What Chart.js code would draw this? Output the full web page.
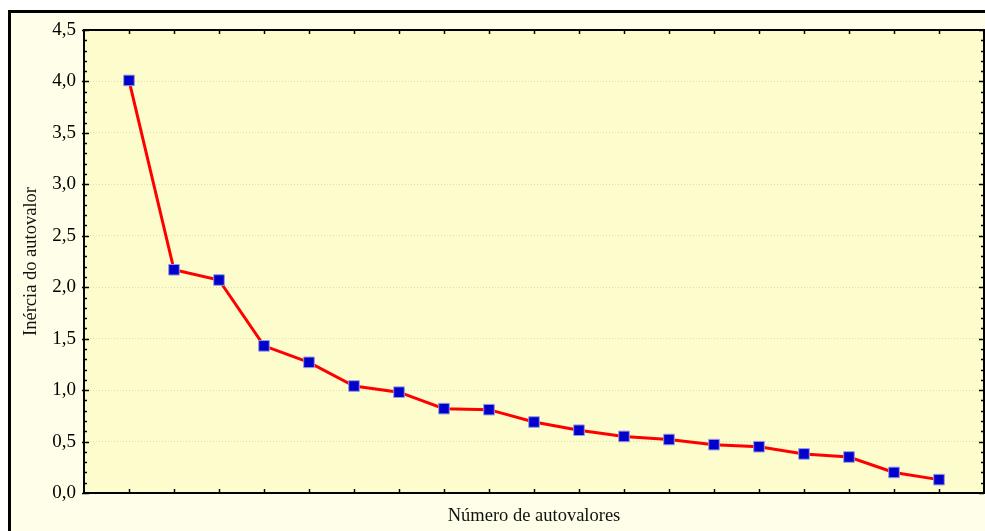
<!DOCTYPE html>
<html>
<head>
<meta charset="utf-8">
<script src="https://cdn.jsdelivr.net/npm/chart.js@4"></script>
<style>
  html, body { margin: 0; padding: 0; background: #fff; }
  #frame {
    position: absolute; left: 8px; top: 10px; width: 1000px; height: 540px;
    border-left: 3px solid #000; border-top: 3px solid #000;
    background: #fffee8;
  }
  #scree { position: absolute; left: 0; top: 0; }
</style>
</head>
<body>
<div id="frame"></div>
<canvas id="scree" width="985" height="531"></canvas>
<script>
  // eigenvalue number vs eigenvalue
  const autovalores = [1, 2, 3, 4, 5, 6, 7, 8, 9, 10, 11, 12, 13, 14, 15, 16, 17, 18, 19];
  const inercia = [4.01, 2.17, 2.07, 1.43, 1.27, 1.04, 0.98, 0.82, 0.81, 0.69,
                   0.61, 0.55, 0.52, 0.47, 0.45, 0.38, 0.35, 0.20, 0.13];
  const yTickLabels = ['0,0', '0,5', '1,0', '1,5', '2,0', '2,5', '3,0', '3,5', '4,0', '4,5'];

  const serif = '"Liberation Serif", "Times New Roman", serif';

  // plot background, frame and inward tick marks like the original software
  const plotFrame = {
    id: 'plotFrame',
    beforeDraw(chart) {
      const { ctx, chartArea: a } = chart;
      ctx.save();
      ctx.fillStyle = '#fdfccd';
      ctx.fillRect(a.left, a.top, a.right - a.left, a.bottom - a.top);
      ctx.restore();
    },
    afterDatasetsDraw(chart) {
      const { ctx, chartArea: a, scales } = chart;
      const x = scales.x, y = scales.y;
      ctx.save();
      ctx.strokeStyle = '#000';
      ctx.lineWidth = 1.5;
      ctx.beginPath();
      for (const v of autovalores) {
        const px = Math.round(x.getPixelForValue(v)) + 0.5;
        ctx.moveTo(px, a.bottom); ctx.lineTo(px, a.bottom - 4);
        ctx.moveTo(px, a.top); ctx.lineTo(px, a.top + 4);
      }
      for (let i = 0; i <= 45; i++) {
        const py = Math.round(y.getPixelForValue(i / 10)) + 0.5;
        const len = i % 5 === 0 ? 5 : 3;
        ctx.moveTo(a.left - (i % 5 === 0 ? 2 : 0), py); ctx.lineTo(a.left + len, py);
        ctx.moveTo(a.right, py); ctx.lineTo(a.right - len, py);
      }
      ctx.stroke();
      ctx.lineWidth = 2;
      ctx.strokeRect(a.left, a.top, a.right - a.left, a.bottom - a.top);
      ctx.restore();
    }
  };

  new Chart(document.getElementById('scree'), {
    type: 'line',
    data: {
      datasets: [{
        data: autovalores.map((v, i) => ({ x: v, y: inercia[i] })),
        borderColor: '#ff0000',
        borderWidth: 3,
        tension: 0,
        pointStyle: 'rect',
        pointRadius: 7.5,
        pointHoverRadius: 7.5,
        pointBackgroundColor: '#0000cc',
        pointBorderColor: '#9a9ae0',
        pointBorderWidth: 1
      }]
    },
    options: {
      responsive: false,
      animation: false,
      devicePixelRatio: 1,
      layout: { autoPadding: false, padding: { left: 20, right: 1, top: 30, bottom: 0 } },
      plugins: { legend: { display: false }, tooltip: { enabled: false } },
      scales: {
        x: {
          type: 'linear', min: 0, max: 20,
          grid: { display: false },
          border: { display: false },
          ticks: { display: false },
          title: {
            display: true, text: 'Número de autovalores', color: '#111',
            font: { family: serif, size: 18.5 }, padding: { top: 4, bottom: 4 }
          },
          afterFit(s) { s.height = 38; }
        },
        y: {
          min: 0, max: 4.5,
          grid: { color: '#dcdcb4', drawTicks: false, lineWidth: 1 },
          border: { display: false, dash: [1, 2] },
          ticks: {
            stepSize: 0.5, padding: 8, color: '#000',
            font: { family: serif, size: 19 },
            callback: (v, i) => yTickLabels[i]
          },
          title: {
            display: true, text: 'Inércia do autovalor', color: '#111',
            font: { family: serif, size: 18.5 }, padding: { top: 0, bottom: 2 }
          },
          afterFit(s) { s.width = 64; }
        }
      }
    },
    plugins: [plotFrame]
  });
</script>
</body>
</html>
